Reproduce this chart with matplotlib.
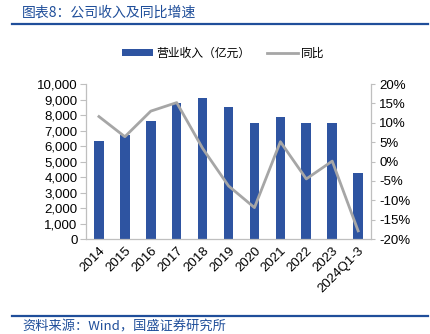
import matplotlib.pyplot as plt
from matplotlib.ticker import FuncFormatter, MultipleLocator
from matplotlib.lines import Line2D

plt.rcParams['font.family'] = ['Liberation Sans', 'Noto Sans CJK SC', 'DejaVu Sans']

years = ["2014", "2015", "2016", "2017", "2018", "2019", "2020",
         "2021", "2022", "2023", "2024Q1-3"]
revenue = [6320, 6700, 7630, 8770, 9070, 8500, 7460, 7850, 7500, 7500, 4280]
yoy = [11.6, 6.4, 13.0, 15.2, 3.4, -6.3, -11.9, 5.1, -4.5, 0.1, -17.9]

blue = "#2E54A1"
grey = "#A6A6A6"
dark = "#1F4E9A"
axis_grey = "#BFBFBF"

fig = plt.figure(figsize=(4.31, 3.34), dpi=100)
ax = fig.add_axes([0.1995, 0.2844, 0.6615, 0.4641])
ax2 = ax.twinx()

x = range(len(years))
bars = ax.bar(x, revenue, width=0.37, color=blue, zorder=2)
line, = ax2.plot(x, yoy, color=grey, lw=2, zorder=3)

ax.set_xlim(-0.5, len(years) - 0.5)
ax.set_ylim(0, 10000)
ax.yaxis.set_major_locator(MultipleLocator(1000))
ax.yaxis.set_major_formatter(FuncFormatter(lambda v, p: f"{int(v):,}"))
ax2.set_ylim(-20, 20)
ax2.yaxis.set_major_locator(MultipleLocator(5))
ax2.yaxis.set_major_formatter(FuncFormatter(lambda v, p: f"{int(v)}%"))

ax.set_xticks(list(x))
ax.set_xticklabels(years, rotation=45, ha="right", rotation_mode="anchor")

for a in (ax, ax2):
    for s in a.spines.values():
        s.set_visible(False)
ax.spines["left"].set_visible(True)
ax.spines["bottom"].set_visible(True)
ax2.spines["right"].set_visible(True)
for s in (ax.spines["left"], ax.spines["bottom"], ax2.spines["right"]):
    s.set_color(axis_grey)
    s.set_linewidth(0.9)

ax.tick_params(axis="y", length=4, color=axis_grey, labelsize=9.5, pad=2)
ax.tick_params(axis="x", length=0, labelsize=9.5, pad=4)
ax2.tick_params(axis="y", length=3, color=axis_grey, labelsize=9.5, pad=3)

# legend above the plot
handles = [bars, line]
labels = ["营业收入（亿元）", "同比"]
fig.legend(handles, labels, loc="center", bbox_to_anchor=(0.519, 0.841), ncol=2,
           frameon=False, handlelength=2.6, handleheight=0.5,
           columnspacing=1.4, handletextpad=0.3,
           prop={"family": ["Noto Sans CJK SC"], "size": 8.5})

# title, source and rules
fig.text(0.051, 0.962, "图表8：公司收入及同比增速", color=dark, fontsize=10,
         va="center", ha="left", style="italic",
         family=["Noto Sans CJK SC", "DejaVu Sans"])
fig.add_artist(Line2D([0.028, 0.993], [0.928, 0.928], color=dark, lw=1.6))
fig.add_artist(Line2D([0.028, 0.993], [0.054, 0.054], color=dark, lw=1.6))
fig.text(0.051, 0.022, "资料来源：Wind，国盛证券研究所", color=dark, fontsize=9.5,
         va="center", ha="left", style="italic",
         family=["Noto Sans CJK SC", "DejaVu Sans"])

fig.savefig("out.png", dpi=100)
